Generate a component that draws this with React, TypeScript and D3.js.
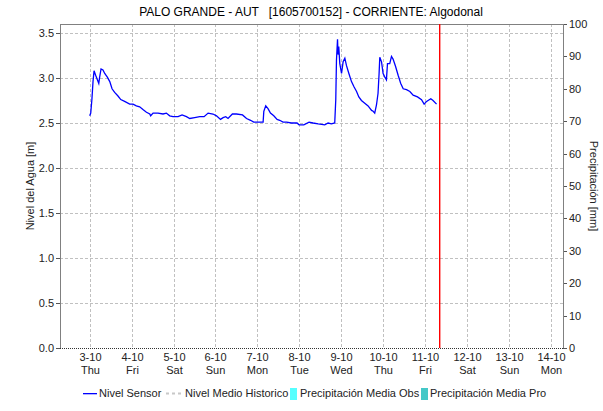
import * as d3 from 'd3';
import React from 'react';

// hours since 3-10 00:00 and water level [m]
const horas = [0, 0.6, 1.3, 1.9, 2.5, 3.4, 4.4, 5.2, 5.7, 6.5, 7.6, 8.6, 10.1, 11.5, 12.8, 14.3, 16.2, 17.8, 20.0, 22.9,
  24.8, 26.7, 28.6, 30.5, 32.5, 34.4, 34.9, 36.3, 39.1, 42.0, 43.9, 45.8, 47.7, 50.6, 52.9, 55.4, 57.3, 60.1, 63.0, 65.5,
  67.8, 70.6, 72.6, 74.9, 76.4, 77.9, 79.2, 81.7, 84.0, 87.5, 89.8, 92.1, 93.9, 96.4, 99.3, 99.7, 100.8, 102.1, 103.5, 105.4,
  107.3, 108.8, 110.7, 112.7, 115.5, 118.7, 119.9, 122.6, 125.6, 127.9, 130.8, 134.6, 136.5, 138.4, 140.3, 140.9, 141.3, 141.9, 142.2, 142.6,
  143.2, 144.2, 145.1, 146.1, 147.0, 148.4, 149.9, 151.4, 152.8, 154.1, 155.6, 157.5, 159.4, 161.4, 162.3, 163.2, 164.2, 165.1, 165.7, 166.1,
  167.1, 168.0, 169.0, 169.9, 170.5, 171.8, 172.8, 173.7, 175.1, 176.6, 178.1, 179.5, 181.4, 183.3, 185.2, 187.7, 190.0, 191.5, 192.9, 195.3,
  196.6, 198.6];
const nivel = [2.58, 2.61, 2.77, 2.96, 3.08, 3.03, 2.98, 2.94, 3.01, 3.10, 3.09, 3.05, 3.01, 2.96, 2.88, 2.84, 2.80, 2.76, 2.74, 2.71,
  2.71, 2.69, 2.68, 2.65, 2.62, 2.60, 2.58, 2.61, 2.61, 2.60, 2.61, 2.58, 2.57, 2.57, 2.59, 2.57, 2.55, 2.56, 2.57, 2.57,
  2.61, 2.60, 2.58, 2.54, 2.56, 2.57, 2.55, 2.60, 2.60, 2.59, 2.55, 2.53, 2.51, 2.51, 2.51, 2.63, 2.69, 2.66, 2.61, 2.58,
  2.54, 2.53, 2.51, 2.51, 2.50, 2.50, 2.48, 2.48, 2.51, 2.50, 2.49, 2.48, 2.50, 2.49, 2.50, 2.76, 3.20, 3.43, 3.26, 3.35,
  3.16, 3.05, 3.18, 3.22, 3.14, 3.05, 2.96, 2.90, 2.85, 2.79, 2.75, 2.72, 2.69, 2.64, 2.63, 2.61, 2.70, 2.83, 3.05, 3.23,
  3.18, 3.05, 3.01, 2.98, 3.16, 3.16, 3.24, 3.21, 3.13, 3.03, 2.94, 2.88, 2.87, 2.85, 2.81, 2.79, 2.76, 2.71, 2.74, 2.77,
  2.75, 2.71];

const dias = ['3-10', '4-10', '5-10', '6-10', '7-10', '8-10', '9-10', '10-10', '11-10', '12-10', '13-10', '14-10'];
const semana = ['Thu', 'Fri', 'Sat', 'Sun', 'Mon', 'Tue', 'Wed', 'Thu', 'Fri', 'Sat', 'Sun', 'Mon'];
const nivelTicks = [0, 0.5, 1, 1.5, 2, 2.5, 3, 3.5];
const precTicks = [0, 10, 20, 30, 40, 50, 60, 70, 80, 90, 100];
const horaActual = 200; // red "now" marker, 11-10 08:00

const base = new Date(2024, 9, 3);
const enHoras = (h: number) => new Date(base.getTime() + h * 3600000);

export default function App() {
  const width = 603, height = 411;
  const left = 60, right = 563, top = 24, bottom = 348;

  const x = d3.scaleTime()
    .domain([enHoras(-17), enHoras(12 * 24 - 17)])
    .range([left, right]);
  const y = d3.scaleLinear().domain([0, 3.6]).range([bottom, top]);
  const y2 = d3.scaleLinear().domain([0, 100]).range([bottom, top]);

  const serie = horas.map((h, i) => ({t: enHoras(h), v: nivel[i]}));
  const linea = d3.line<{t: Date, v: number}>().x(d => x(d.t)).y(d => y(d.v));

  const font = '"Liberation Sans", Arial, sans-serif';
  const grid = '#c0c0c0';
  const xAhora = Math.round(x(enHoras(horaActual)));

  return (
    <svg width={width} height={height} style={{position: 'absolute', left: 0, top: 0, fontFamily: font}}>
      <rect width={width} height={height} fill='#fff'/>
      <text x={311} y={16} fontSize={12} textAnchor='middle' xmlSpace='preserve'>
        {'PALO GRANDE - AUT   [1605700152] - CORRIENTE: Algodonal'}
      </text>

      {nivelTicks.map(t => (
        <g key={'y' + t}>
          {t > 0 && <line x1={left} x2={right} y1={Math.round(y(t)) + 0.5} y2={Math.round(y(t)) + 0.5}
            stroke={grid} strokeDasharray='3,2'/>}
          <line x1={left - 4} x2={left} y1={Math.round(y(t)) + 0.5} y2={Math.round(y(t)) + 0.5} stroke='#555'/>
          <text x={left - 6} y={y(t) + 4} fontSize={11} textAnchor='end' fill='#222'>{d3.format('.1f')(t)}</text>
        </g>
      ))}

      {precTicks.map(t => (
        <g key={'p' + t}>
          <line x1={right} x2={right + 4} y1={Math.round(y2(t)) + 0.5} y2={Math.round(y2(t)) + 0.5} stroke='#555'/>
          <text x={right + 6} y={y2(t) + 4} fontSize={11} fill='#222'>{t}</text>
        </g>
      ))}

      {dias.map((d, i) => {
        const xx = Math.round(x(enHoras(i * 24))) + 0.5;
        return (
          <g key={'x' + d + i}>
            <line x1={xx} x2={xx} y1={top} y2={bottom} stroke={grid} strokeDasharray='3,2'/>
            <text x={xx} y={361} fontSize={11} textAnchor='middle' fill='#222'>{d}</text>
            <text x={xx} y={374} fontSize={11} textAnchor='middle' fill='#222'>{semana[i]}</text>
          </g>
        );
      })}

      <line x1={left + 0.5} x2={left + 0.5} y1={top} y2={bottom} stroke='#808080'/>
      <line x1={right + 0.5} x2={right + 0.5} y1={top} y2={bottom} stroke='#808080'/>
      <line x1={left} x2={right} y1={top + 0.5} y2={top + 0.5} stroke='#808080'/>
      <line x1={left} x2={right} y1={bottom + 0.5} y2={bottom + 0.5} stroke='#333' strokeDasharray='1,1'/>

      <path d={linea(serie) ?? ''} fill='none' stroke='#0000ff' strokeWidth={1.3}/>

      <rect x={xAhora} y={top} width={1.4} height={bottom - top} fill='red'/>

      <text transform={`translate(34,186) rotate(-90)`} fontSize={11} textAnchor='middle' fill='#222'>Nivel del Agua [m]</text>
      <text transform={`translate(590,186) rotate(90)`} fontSize={11} textAnchor='middle' fill='#222'>Precipitación [mm]</text>

      <g fontSize={11} fill='#222'>
        <rect x={83} y={393} width={14} height={1.3} fill='blue'/>
        <text x={99} y={397}>Nivel Sensor</text>
        <line x1={166} x2={181} y1={393.5} y2={393.5} stroke='#c8c8c8' strokeWidth={2} strokeDasharray='3,3'/>
        <text x={185} y={397}>Nivel Medio Historico</text>
        <rect x={290} y={388} width={7} height={12} fill='#55ffff'/>
        <text x={300} y={397}>Precipitación Media Obs</text>
        <rect x={421} y={388} width={7} height={12} fill='#44c8c8'/>
        <text x={430} y={397}>Precipitación Media Pro</text>
      </g>
    </svg>
  );
}
